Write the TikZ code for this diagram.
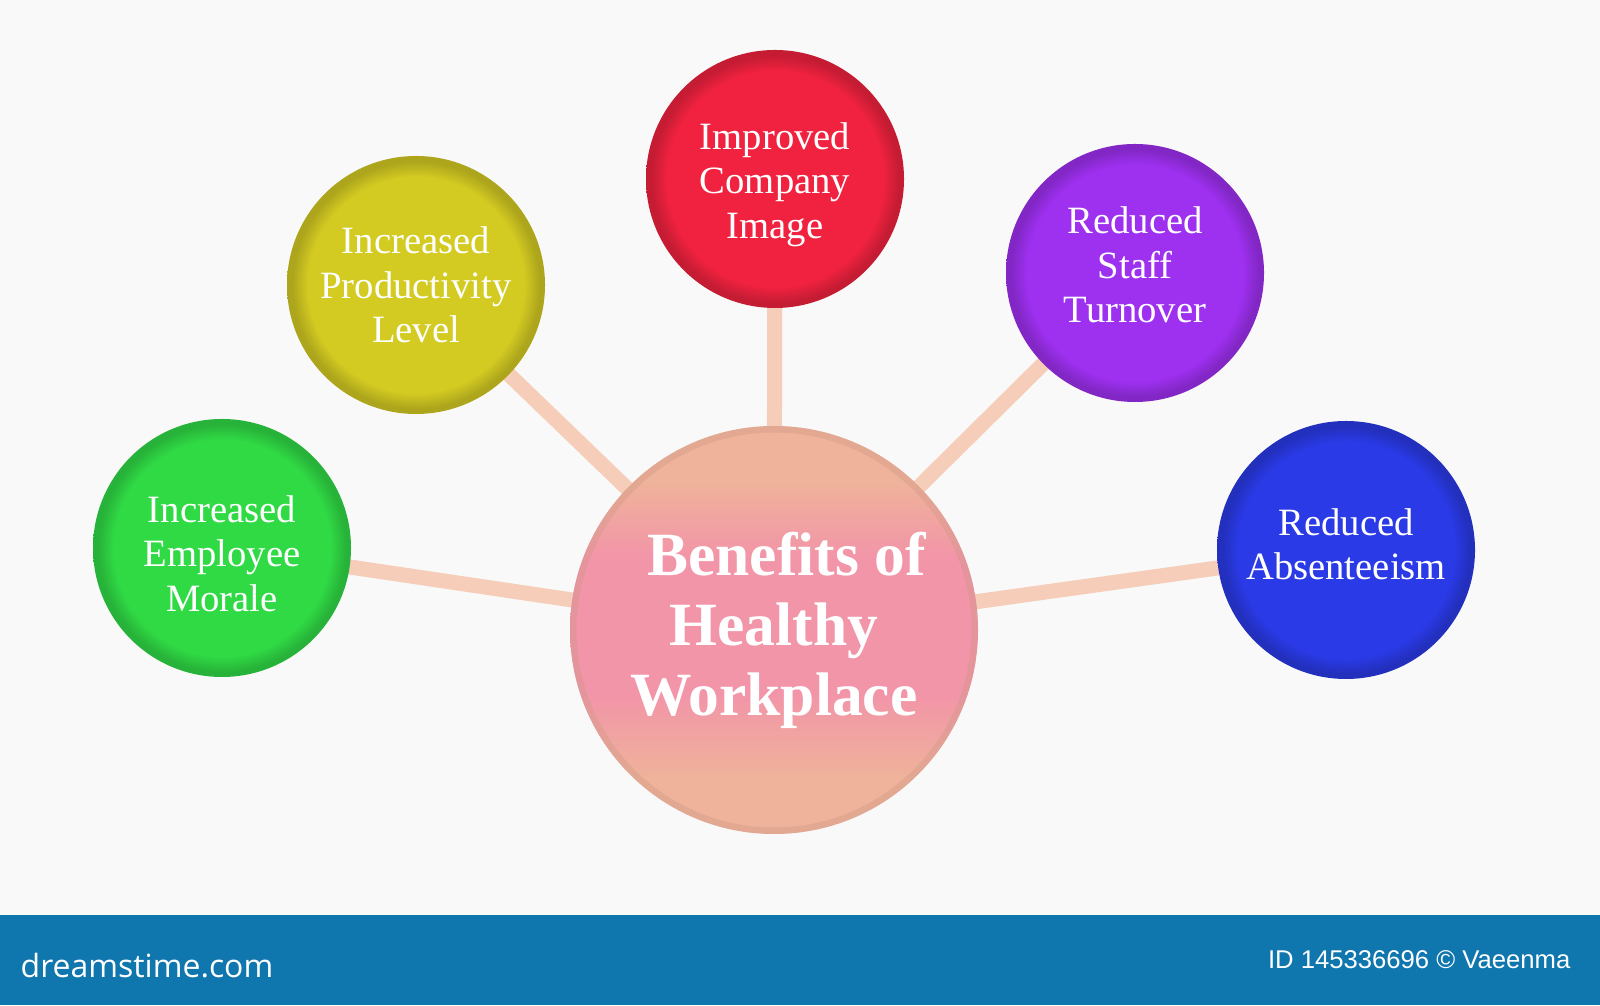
\documentclass[tikz,border=0pt]{standalone}
\usepackage{fontspec}
\setmainfont{Liberation Serif}
\newfontfamily\logofont{Open Sans}
\newfontfamily\idfont{Liberation Sans}
\usetikzlibrary{backgrounds}

\definecolor{paper}{HTML}{F9F9F9}
\definecolor{barblue}{HTML}{1076AE}
\definecolor{linkpeach}{HTML}{F5CDB8}
\definecolor{ballgreen}{HTML}{30DA45}
\definecolor{ballyellow}{HTML}{D3CA22}
\definecolor{ballred}{HTML}{F0223F}
\definecolor{ballpurple}{HTML}{9E30F0}
\definecolor{ballblue}{HTML}{2A3AE6}
\definecolor{hubpink}{HTML}{F295A8}
\definecolor{hubpeach}{HTML}{EFB29A}

\pgfdeclarelayer{canvas}
\pgfsetlayers{canvas,background,main}

% the circle edge sits at 25bp of the shading
\pgfdeclareradialshading[btnfill,btnrim]{button}{\pgfpointorigin}{%
  color(0bp)=(btnfill); color(21bp)=(btnfill); color(24bp)=(btnrim); color(25bp)=(btnrim); color(50bp)=(btnrim)}
% pink middle, peach top and bottom
\pgfdeclareverticalshading[hubpink,hubpeach]{hubshade}{100bp}{%
  color(0bp)=(hubpeach); color(32bp)=(hubpeach); color(42bp)=(hubpink); color(59bp)=(hubpink); color(68bp)=(hubpeach); color(100bp)=(hubpeach)}

\tikzset{
  bubble/.style={circle, minimum size=2.58cm, inner sep=0pt, align=center,
    text=white, font=\fontsize{11}{12.6}\selectfont},
  tint/.style={/utils/exec={\colorlet{btnfill}{#1}\colorlet{btnrim}{#1!82!black}},
    shade, shading=button},
  hubball/.style={circle, minimum size=4.08cm, inner sep=0pt, align=center,
    text=white, font=\fontsize{17.5}{19.9}\selectfont\bfseries, shade, shading=hubshade,
    path picture={\draw[hubpeach!85!black, line width=0.07cm, opacity=0.35]
      (path picture bounding box.center) circle (2.01cm);}},
  link/.style={draw=linkpeach, line width=0.15cm}
}

\begin{document}
\begin{tikzpicture}
    \begin{pgfonlayer}{canvas}
        \fill[paper] (0, 0) rectangle (16, 10.05);
        \fill[barblue] (0, 0) rectangle (16, 0.90);
    \end{pgfonlayer}
    \useasboundingbox (0, 0) rectangle (16, 10.05);

    \node[hubball] (hub) at (7.74, 3.75) {\hspace*{0.25cm}Benefits of\\Healthy\\Workplace};

    \node[bubble, tint=ballgreen] (morale) at (2.22, 4.57) {\\[-0.06cm]Increased\\Employee\\Morale};
    \node[bubble, tint=ballyellow] (productivity) at (4.16, 7.20) {Increased\\Productivity\\Level};
    \node[bubble, tint=ballred] (image) at (7.75, 8.26) {\\[-0.06cm]Improved\\Company\\Image};
    \node[bubble, tint=ballpurple] (turnover) at (11.35, 7.32) {Reduced\\Staff\\Turnover\\[-0.28cm]};
    \node[bubble, tint=ballblue] (absence) at (13.46, 4.55) {Reduced\\Absenteeism\\[-0.32cm]};

    \begin{pgfonlayer}{background}
        \foreach \leaf in {morale, productivity, image, turnover, absence}
            \draw[link] (hub.center) -- (\leaf.center);
    \end{pgfonlayer}

    \node[anchor=base west, text=white, inner sep=0pt, font=\logofont\fontsize{9.1}{10}\selectfont] (logo) at (0.20, 0.28) {dreamstime.com};
    \node[anchor=base east, text=white, inner sep=0pt, font=\idfont\fontsize{7.3}{8}\selectfont] (credit) at (15.71, 0.37) {ID 145336696 © Vaeenma};
\end{tikzpicture}
\end{document}
